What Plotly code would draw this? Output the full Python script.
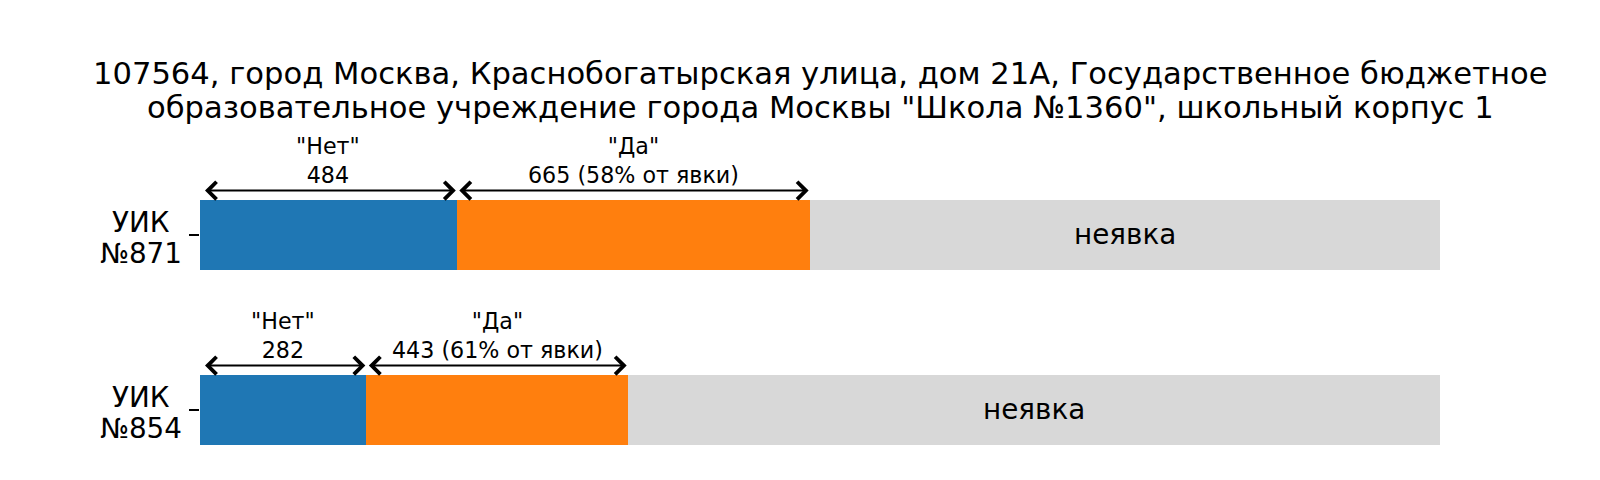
import plotly.graph_objects as go

# ---- data ----
stations = ["УИК\n№871", "УИК\n№854"]          # top to bottom
no_votes = [484, 282]
yes_votes = [665, 443]
registered = [2337, 2102]                        # estimated from bar proportions
title_lines = [
    "107564, город Москва, Краснобогатырская улица, дом 21А, Государственное бюджетное",
    'образовательное учреждение города Москвы "Школа №1360", школьный корпус 1',
]
no_label = '"Нет"'
yes_label = '"Да"'
absent_label = "неявка"

# ---- derived ----
n = len(stations)
ypos = [n - 1 - i for i in range(n)]
absent = [r - a - b for r, a, b in zip(registered, no_votes, yes_votes)]
f_no = [a / r for a, r in zip(no_votes, registered)]
f_yes = [b / r for b, r in zip(yes_votes, registered)]
f_abs = [c / r for c, r in zip(absent, registered)]

BLUE, ORANGE, GREY = "#1f77b4", "#ff7f0e", "#d8d8d8"
FONT = "DejaVu Sans"
TITLE, BIG, SMALL = 30.6, 27.8, 22.2
BAR_W = 0.4

fig = go.Figure()
for vals, col in [(f_no, BLUE), (f_yes, ORANGE), (f_abs, GREY)]:
    fig.add_trace(go.Bar(y=ypos, x=vals, orientation="h", width=BAR_W,
                         marker=dict(color=col, line=dict(width=0)),
                         showlegend=False, hoverinfo="skip"))

ann = []
# title lines
for j, line in enumerate(title_lines):
    ann.append(dict(x=0.5, y=1, xref="paper", yref="paper", xanchor="center", yanchor="middle",
                    yshift=57 - 34.5 * j, text=line, showarrow=False,
                    font=dict(family=FONT, size=TITLE, color="black")))

for i in range(n):
    y = ypos[i]
    x0, x1, x2 = 0.0, f_no[i], f_no[i] + f_yes[i]
    turnout = no_votes[i] + yes_votes[i]
    pct = round(100 * yes_votes[i] / turnout)
    ya = y + BAR_W / 2 + 0.052
    # arrows
    for (s, e, sso) in [(x0, x1, 3.5), (x1, x2, 1)]:
        ann.append(dict(x=e, y=ya, ax=s, ay=ya, xref="x", yref="y", axref="x", ayref="y",
                        text="", showarrow=True, arrowside="end+start",
                        arrowhead=4, startarrowhead=4, arrowsize=1.7, startarrowsize=1.7,
                        arrowwidth=2, arrowcolor="black", standoff=1, startstandoff=sso))
    # labels
    ann.append(dict(x=(x0 + x1) / 2, y=y, xref="x", yref="y", yanchor="middle", yshift=74,
                    text=f"{no_label}<br>{no_votes[i]}", showarrow=False,
                    font=dict(family=FONT, size=SMALL, color="black")))
    ann.append(dict(x=(x1 + x2) / 2, y=y, xref="x", yref="y", yanchor="middle", yshift=74,
                    text=f"{yes_label}<br>{yes_votes[i]} ({pct}% от явки)", showarrow=False,
                    font=dict(family=FONT, size=SMALL, color="black")))
    ann.append(dict(x=(x2 + 1.0) / 2, y=y, xref="x", yref="y", yanchor="middle",
                    text=absent_label, showarrow=False,
                    font=dict(family=FONT, size=BIG, color="black")))
    # station labels (centered multi-line)
    lines = stations[i].split("\n")
    for j, line in enumerate(lines):
        ann.append(dict(x=0, y=y, xref="paper", yref="y", xanchor="center", yanchor="middle",
                        xshift=-59, yshift=12 - 30.5 * j, text=line, showarrow=False,
                        font=dict(family=FONT, size=BIG, color="black")))

# the page body adds an 8 px margin, so the figure is 8 px smaller each way
fig.update_layout(
    width=1592, height=472,
    margin=dict(l=192, r=160, t=122, b=20),
    paper_bgcolor="white", plot_bgcolor="white",
    barmode="stack", bargap=0,
    xaxis=dict(range=[0, 1], visible=False, fixedrange=True),
    yaxis=dict(range=[-0.2874, 1.5983], tickvals=ypos, ticktext=["" for _ in ypos],
               showticklabels=False, ticks="outside", ticklen=10, tickwidth=1.5,
               tickcolor="black", showline=False, showgrid=False, zeroline=False),
    annotations=ann,
)

fig.write_html("out.html")
